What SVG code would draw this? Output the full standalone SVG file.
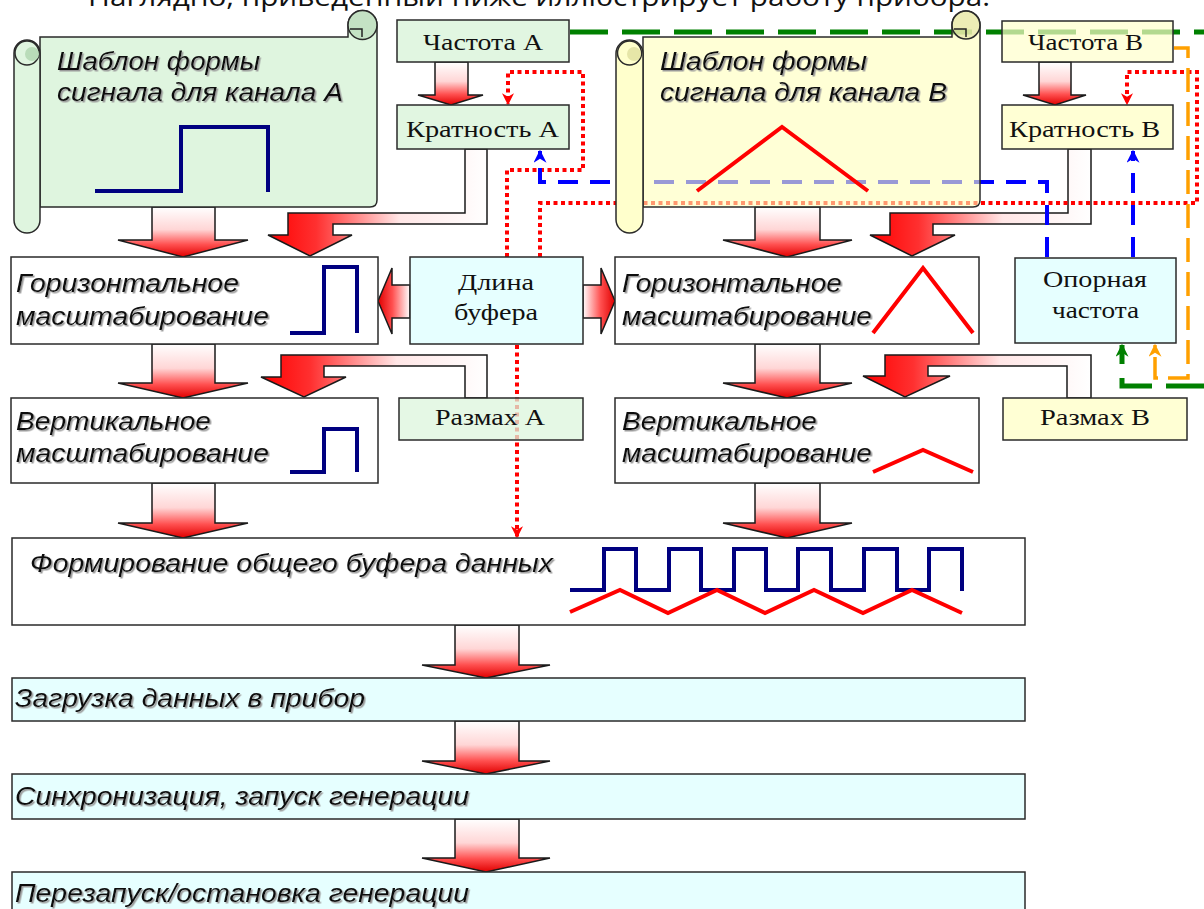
<svg xmlns="http://www.w3.org/2000/svg" width="1204" height="909" viewBox="0 0 1204 909">
<defs>
<style>
.box{stroke:#2a2a2a;stroke-width:1.5}
.gr{fill:#dcf5dc;fill-opacity:0.85}
.ye{fill:#ffffcc;fill-opacity:0.85}
.cy{fill:#e2ffff;fill-opacity:0.85}
.wh{fill:#ffffff}
.lbl{font-family:"Liberation Serif",serif;font-size:24px;fill:#111}
.it{font-family:"Liberation Sans",Arial,sans-serif;font-style:italic;font-size:26px;fill:#111;filter:url(#sh)}
.itn{font-family:"Liberation Sans",Arial,sans-serif;font-style:italic;font-size:25px;fill:#111;filter:url(#sh)}
.blk{stroke:#1a1a1a;stroke-width:1.5;stroke-linejoin:miter}
.red{fill:none;stroke:#ff0000;stroke-width:4;stroke-dasharray:4 3.5}
.blu{fill:none;stroke:#0000ff;stroke-width:4;stroke-dasharray:20 12}
.grn{fill:none;stroke:#008000;stroke-width:5;stroke-dasharray:38 14}
.org{fill:none;stroke:#ffa000;stroke-width:3.5;stroke-dasharray:24 10}
.navy{fill:none;stroke:#000080;stroke-width:4}
.rw{fill:none;stroke:#ff0000;stroke-width:4}
</style>
<filter id="sh" x="-5%" y="-30%" width="110%" height="160%"><feDropShadow dx="1.5" dy="1.5" stdDeviation="0.5" flood-color="#9a9a9a"/></filter>
<linearGradient id="gDown" x1="0" y1="0" x2="0" y2="1"><stop offset="0" stop-color="#ffffff"/><stop offset="0.45" stop-color="#ffd6d6"/><stop offset="0.75" stop-color="#ff5050"/><stop offset="1" stop-color="#e00000"/></linearGradient>
<linearGradient id="gBent" x1="0" y1="0" x2="1" y2="0"><stop offset="0" stop-color="#ff0000"/><stop offset="0.22" stop-color="#ff3030"/><stop offset="0.6" stop-color="#ffe6e6"/><stop offset="1" stop-color="#ffffff"/></linearGradient>
<linearGradient id="gL" x1="0" y1="0" x2="1" y2="0"><stop offset="0" stop-color="#e00000"/><stop offset="0.45" stop-color="#ff5050"/><stop offset="1" stop-color="#ffffff"/></linearGradient>
<linearGradient id="gR" x1="1" y1="0" x2="0" y2="0"><stop offset="0" stop-color="#e00000"/><stop offset="0.45" stop-color="#ff5050"/><stop offset="1" stop-color="#ffffff"/></linearGradient>
<marker id="mRed" viewBox="0 0 10 10" refX="9" refY="5" markerWidth="12" markerHeight="12" markerUnits="userSpaceOnUse" orient="auto"><path d="M0,0 L10,5 L0,10 L3,5 Z" fill="#ff0000"/></marker>
<marker id="mBlu" viewBox="0 0 10 10" refX="9" refY="5" markerWidth="13" markerHeight="13" markerUnits="userSpaceOnUse" orient="auto"><path d="M0,0 L10,5 L0,10 L3,5 Z" fill="#0000ff"/></marker>
<marker id="mGrn" viewBox="0 0 10 10" refX="9" refY="5" markerWidth="13" markerHeight="13" markerUnits="userSpaceOnUse" orient="auto"><path d="M0,0 L10,5 L0,10 L3,5 Z" fill="#008000"/></marker>
<marker id="mOrg" viewBox="0 0 10 10" refX="9" refY="5" markerWidth="13" markerHeight="13" markerUnits="userSpaceOnUse" orient="auto"><path d="M0,0 L10,5 L0,10 L3,5 Z" fill="#ffa000"/></marker>
</defs>
<rect width="1204" height="909" fill="#ffffff"/>
<text x="88" y="6" font-family="'Open Sans','Noto Sans',sans-serif" font-size="26" fill="#111" textLength="902" lengthAdjust="spacingAndGlyphs">Наглядно, приведенный ниже иллюстрирует работу прибора.</text>

<g id="connectors">
<g class="blk" fill="url(#gDown)">
<polygon points="152,207 215,207 215,240 248,240 183,257 118,240 152,240"/>
<polygon points="152,344 215,344 215,383 248,383 183,398 118,383 152,383"/>
<polygon points="152,483 215,483 215,523 248,523 183,538 118,523 152,523"/>
<polygon points="755,207 820,207 820,240 852,240 787,257 723,240 755,240"/>
<polygon points="755,344 820,344 820,383 852,383 787,398 723,383 755,383"/>
<polygon points="755,483 820,483 820,523 852,523 787,538 723,523 755,523"/>
<polygon points="455,625 519,625 519,665 550,665 486,678 422,665 455,665"/>
<polygon points="455,721 519,721 519,761 550,761 486,774 422,761 455,761"/>
<polygon points="455,819 519,819 519,858 550,858 486,872 422,858 455,858"/>
<polygon points="435,62 468,62 468,95 483,95 451,105 418,95 435,95"/>
<polygon points="1039,62 1071,62 1071,95 1086,95 1055,105 1023,95 1039,95"/>
</g>
<g class="blk" fill="url(#gBent)">
<polygon points="487,149 487,224 333,224 333,235 352,235 310,256 268,235 288,235 288,213 465,213 465,149"/>
<polygon points="1091,149 1091,224 933,224 933,235 955,235 912,256 870,235 890,235 890,213 1068,213 1068,149"/>
<polygon points="487,398 487,355 281,355 281,377 261,377 304,397 346,377 324,377 324,366 465,366 465,398"/>
<polygon points="1091,398 1091,355 885,355 885,376 863,376 905,397 950,376 928,376 928,366 1067,366 1067,398"/>
</g>
<polygon class="blk" fill="url(#gL)" points="410,285 392,285 392,268 378,301 392,334 392,318 410,318"/>
<polygon class="blk" fill="url(#gR)" points="583,285 601,285 601,268 615,301 601,334 601,318 583,318"/>
<path class="red" d="M507,257 V170 H583 V72 H508 V104" marker-end="url(#mRed)"/>
<path class="red" d="M540,257 V203 H1197 V72 H1127 V104" marker-end="url(#mRed)"/>
<path class="red" d="M517,345 V537" marker-end="url(#mRed)"/>
<path class="blu" d="M1047,257 V182 H540 V151" marker-end="url(#mBlu)"/>
<path class="blu" d="M1133,257 V151" marker-end="url(#mBlu)"/>
<path class="grn" d="M570,32 H1204"/>
<path class="grn" d="M1204,386 H1122 V345" marker-end="url(#mGrn)"/>
<path class="org" d="M1174,48 H1188 V378 H1155 V345" marker-end="url(#mOrg)"/>
</g>

<g id="scrollA">
<path class="box" fill="#dff5df" d="M40,37 H348 V25 A14.5,14.5 0 0 1 377,25 V200 Q377,207 370,207 H40 Z"/>
<circle class="box" cx="362.5" cy="25" r="14.5" fill="#c4e2c4"/>
<path d="M362,37 V29 H350" fill="none" stroke="#222" stroke-width="1.5"/>
<rect class="box" x="14" y="40" width="26" height="193" rx="13" fill="#dff5df"/>
<circle class="box" cx="27" cy="53" r="12" fill="#dff5df"/>
<circle cx="32" cy="54" r="7" fill="#b9dcb9"/>
<text class="it" x="57" y="70" textLength="203" lengthAdjust="spacingAndGlyphs">Шаблон формы</text>
<text class="it" x="57" y="101" textLength="286" lengthAdjust="spacingAndGlyphs">сигнала для канала A</text>
<polyline class="navy" points="95,191 181,191 181,127 268,127 268,192"/>
</g>

<g id="scrollB">
<path class="box" fill="#ffffbb" fill-opacity="0.6" d="M643,37 H952 V25 A14,14 0 0 1 980,25 V200 Q980,207 973,207 H643 Z"/>
<circle class="box" cx="966" cy="25" r="14" fill="#e6e6a8" fill-opacity="0.7"/>
<path d="M966,37 V29 H954" fill="none" stroke="#222" stroke-width="1.5"/>
<rect class="box" x="616" y="40" width="27" height="193" rx="13.5" fill="#ffffcc"/>
<circle class="box" cx="629.5" cy="53" r="12" fill="#ffffcc"/>
<circle cx="634" cy="54" r="7" fill="#e6e6a8"/>
<text class="it" x="660" y="70" textLength="207" lengthAdjust="spacingAndGlyphs">Шаблон формы</text>
<text class="it" x="660" y="101" textLength="287" lengthAdjust="spacingAndGlyphs">сигнала для канала B</text>
<polyline class="rw" points="697,191 782,127 868,191"/>
</g>

<g id="freqA"><rect class="box gr" x="397" y="20" width="172" height="42"/><text class="lbl" x="423" y="50" textLength="120" lengthAdjust="spacingAndGlyphs">Частота A</text></g>
<g id="multA"><rect class="box gr" x="397" y="105" width="172" height="44"/><text class="lbl" x="406" y="137" textLength="153" lengthAdjust="spacingAndGlyphs">Кратность A</text></g>
<g id="freqB"><rect class="box ye" x="1002" y="21" width="171" height="41" style="fill-opacity:0.7"/><text class="lbl" x="1028" y="50" textLength="115" lengthAdjust="spacingAndGlyphs">Частота B</text></g>
<g id="multB"><rect class="box ye" x="1002" y="105" width="171" height="44"/><text class="lbl" x="1009" y="137" textLength="151" lengthAdjust="spacingAndGlyphs">Кратность B</text></g>
<g id="bufLen"><rect class="box cy" x="410" y="257" width="173" height="87"/><text class="lbl" x="458" y="290" textLength="76" lengthAdjust="spacingAndGlyphs">Длина</text><text class="lbl" x="454" y="320" textLength="84" lengthAdjust="spacingAndGlyphs">буфера</text></g>
<g id="refFreq"><rect class="box cy" x="1015" y="258" width="161" height="85"/><text class="lbl" x="1043" y="287" textLength="104" lengthAdjust="spacingAndGlyphs">Опорная</text><text class="lbl" x="1052" y="318" textLength="87" lengthAdjust="spacingAndGlyphs">частота</text></g>
<g id="ampA"><rect class="box gr" x="399" y="398" width="184" height="42" style="fill-opacity:0.75"/><text class="lbl" x="435" y="425" textLength="110" lengthAdjust="spacingAndGlyphs">Размах A</text></g>
<g id="ampB"><rect class="box ye" x="1003" y="398" width="184" height="42"/><text class="lbl" x="1040" y="425" textLength="110" lengthAdjust="spacingAndGlyphs">Размах B</text></g>

<g id="horA"><rect class="box wh" x="11" y="257" width="367" height="87"/><text class="it" x="16" y="292" textLength="223" lengthAdjust="spacingAndGlyphs">Горизонтальное</text><text class="it" x="16" y="325" textLength="253" lengthAdjust="spacingAndGlyphs">масштабирование</text><polyline class="navy" points="290,333 324,333 324,267 357,267 357,333"/></g>
<g id="verA"><rect class="box wh" x="11" y="398" width="367" height="85"/><text class="it" x="16" y="430" textLength="195" lengthAdjust="spacingAndGlyphs">Вертикальное</text><text class="it" x="16" y="462" textLength="253" lengthAdjust="spacingAndGlyphs">масштабирование</text><polyline class="navy" points="290,472 324,472 324,429 357,429 357,472"/></g>
<g id="horB"><rect class="box wh" x="615" y="257" width="364" height="87"/><text class="it" x="622" y="292" textLength="220" lengthAdjust="spacingAndGlyphs">Горизонтальное</text><text class="it" x="622" y="325" textLength="250" lengthAdjust="spacingAndGlyphs">масштабирование</text><polyline class="rw" points="873,333 923,268 973,333"/></g>
<g id="verB"><rect class="box wh" x="615" y="398" width="364" height="85"/><text class="it" x="622" y="430" textLength="195" lengthAdjust="spacingAndGlyphs">Вертикальное</text><text class="it" x="622" y="462" textLength="250" lengthAdjust="spacingAndGlyphs">масштабирование</text><polyline class="rw" points="873,472 923,450 973,472"/></g>

<g id="buffer"><rect class="box wh" x="12" y="538" width="1013" height="87"/><text class="itn" x="30" y="572" textLength="523" lengthAdjust="spacingAndGlyphs">Формирование общего буфера данных</text>
<polyline class="navy" points="570,590 604,590 604,549 636,549 636,590 669,590 669,549 701,549 701,590 734,590 734,549 766,549 766,590 798,590 798,549 831,549 831,590 864,590 864,549 897,549 897,590 929,590 929,549 962,549 962,591"/>
<polyline class="rw" points="570,612 620,590 668,613 717,590 765,613 814,590 863,613 912,590 962,613"/>
</g>
<g id="load"><rect class="box cy" x="12" y="678" width="1013" height="43"/><text class="itn" x="15" y="707" textLength="350" lengthAdjust="spacingAndGlyphs">Загрузка данных в прибор</text></g>
<g id="sync"><rect class="box cy" x="12" y="774" width="1013" height="45"/><text class="itn" x="15" y="805" textLength="454" lengthAdjust="spacingAndGlyphs">Синхронизация, запуск генерации</text></g>
<g id="restart"><rect class="box cy" x="12" y="872" width="1013" height="50"/><text class="itn" x="15" y="902" textLength="454" lengthAdjust="spacingAndGlyphs">Перезапуск/остановка генерации</text></g>
</svg>
